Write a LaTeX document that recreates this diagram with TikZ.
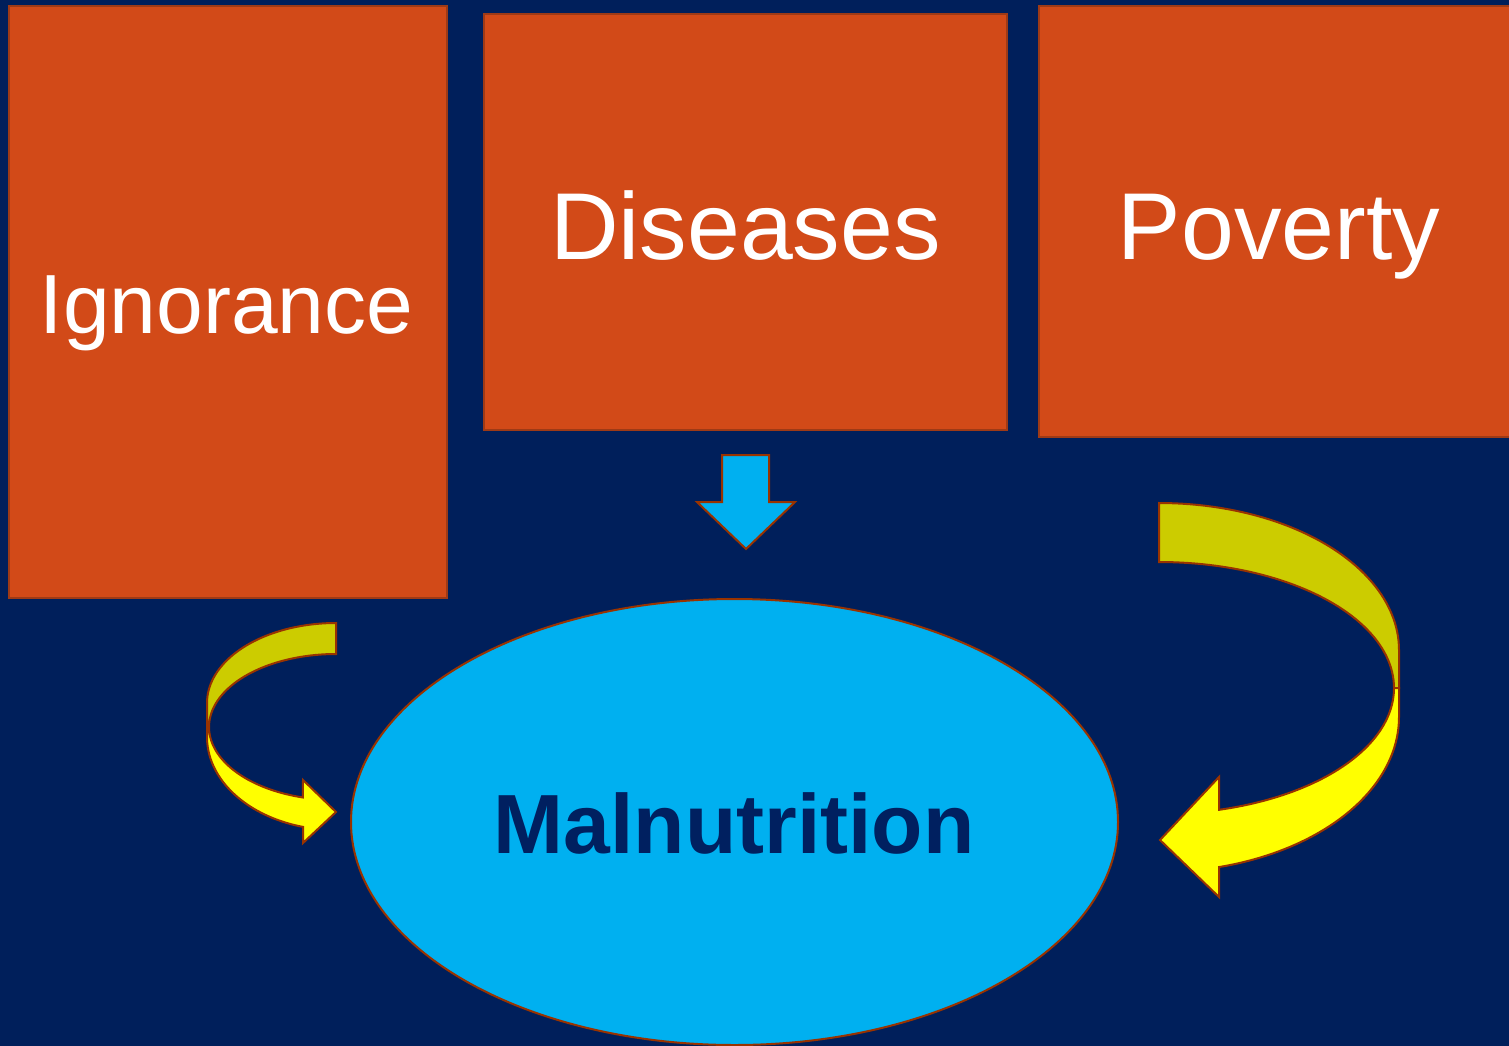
\documentclass[tikz,border=0pt]{standalone}
\usepackage{fontspec}
\setmainfont{Liberation Sans}
\usetikzlibrary{shapes.geometric}
\definecolor{bgnavy}{HTML}{001F5B}
\definecolor{boxfill}{HTML}{D24A18}
\definecolor{boxline}{HTML}{9E3A16}
\definecolor{ovalfill}{HTML}{00B0F0}
\definecolor{arrline}{HTML}{993300}
\definecolor{olive}{HTML}{CCCC00}
\definecolor{brightyel}{HTML}{FFFF00}
\definecolor{maltext}{HTML}{002060}
\tikzset{
  causebox/.style={rectangle, draw=boxline, fill=boxfill, line width=2pt, inner sep=0pt},
  boxlabel/.style={anchor=base, text=white, inner sep=0pt},
  blockarrow/.style={draw=arrline, line width=2pt, line join=miter},
}
\begin{document}
\begin{tikzpicture}[x=1pt,y=-1pt]
\useasboundingbox (0,0) rectangle (1509,1046);
\fill[bgnavy] (0,0) rectangle (1509,1046);

% cause boxes
\node[causebox, minimum width=438pt, minimum height=592pt] (ign) at (228,302) {};
\node[causebox, minimum width=523pt, minimum height=416pt] (dis) at (745.5,222) {};
\node[causebox, minimum width=480pt, minimum height=431pt] (pov) at (1279,221.5) {};

\node[boxlabel, font=\fontsize{84}{90}\selectfont] (ignt) at (226.5,333) {Ignorance};
\node[boxlabel, font=\fontsize{95}{100}\selectfont] (dist) at (745.5,259) {Diseases};
\node[boxlabel, font=\fontsize{95}{100}\selectfont] (povt) at (1279,259) {Poverty};

% malnutrition oval
\node[ellipse, draw=arrline, fill=ovalfill, line width=2pt, minimum width=767pt, minimum height=446pt, inner sep=0pt] (mal) at (734.5,822) {};
\node[anchor=base, text=maltext, inner sep=0pt, font=\bfseries\fontsize{84}{90}\selectfont] (malt) at (734,853) {Malnutrition};

% down arrow from Diseases
\draw[blockarrow, fill=ovalfill] (722,455) -- (769,455) -- (769,502) -- (795,502) -- (746,549) -- (697,502) -- (722,502) -- cycle;

% left curved arrow (Ignorance)
\draw[blockarrow, fill=olive]
  plot[domain=-90:-180, samples=40] ({336+129*cos(\x)},{703+80*sin(\x)})
  -- (207,727) -- (209,727)
  -- plot[domain=-180:-90, samples=40] ({336+127*cos(\x)},{727+73*sin(\x)})
  -- cycle;
\draw[blockarrow, fill=brightyel]
  (207,727) -- (209,727)
  -- plot[domain=180:105.1, samples=40] ({336+127*cos(\x)},{727+73*sin(\x)})
  -- (303,780) -- (336,812) -- (303,843)
  -- plot[domain=104.8:180, samples=40] ({336+129*cos(\x)},{737+93*sin(\x)})
  -- cycle;

% right curved arrow (Poverty)
\draw[blockarrow, fill=olive]
  plot[domain=-90:0, samples=50] ({1159+240*cos(\x)},{650+147*sin(\x)})
  -- (1399,688) -- (1394,688)
  -- plot[domain=0:-90, samples=50] ({1159+235*cos(\x)},{688+126*sin(\x)})
  -- cycle;
\draw[blockarrow, fill=brightyel]
  (1399,688) -- (1394,688)
  -- plot[domain=0:75.2, samples=50] ({1159+235*cos(\x)},{688+126*sin(\x)})
  -- (1219,777) -- (1160,840) -- (1219,897)
  -- plot[domain=75.5:0, samples=50] ({1159+240*cos(\x)},{717+155*sin(\x)})
  -- cycle;
\end{tikzpicture}
\end{document}
